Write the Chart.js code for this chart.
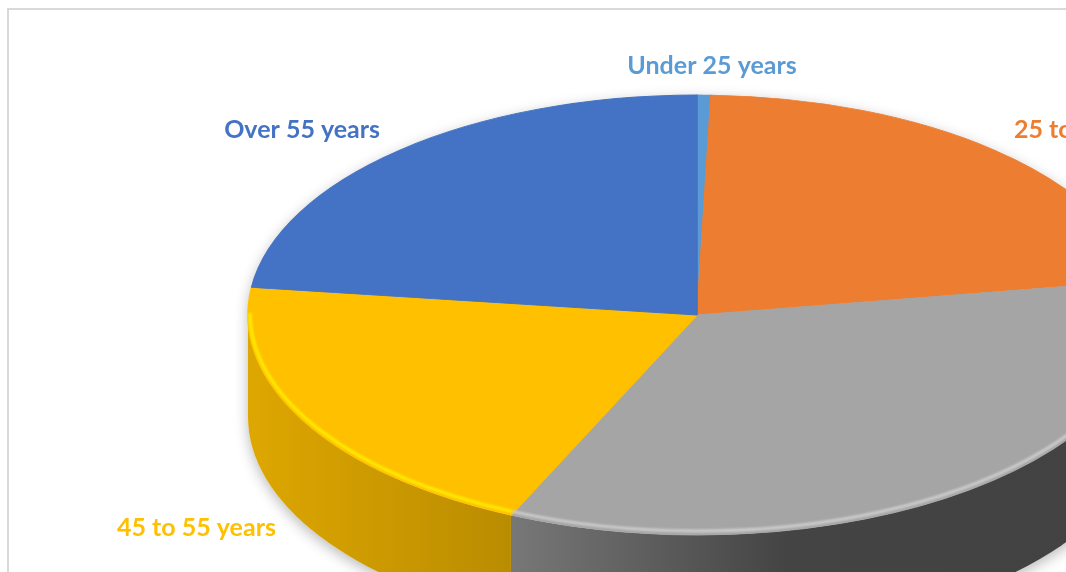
<!DOCTYPE html>
<html>
<head>
<meta charset="utf-8">
<script src="https://cdn.jsdelivr.net/npm/chart.js@4.4.0/dist/chart.umd.min.js"></script>
<style>
html,body{margin:0;padding:0;background:#fff;overflow:hidden;width:1066px;height:572px}
#frame{position:absolute;left:7px;top:8px;width:1300px;height:800px;border:2px solid #d9d9d9}
#wrap{position:absolute;left:0;top:0;width:1066px;height:572px}
</style>
</head>
<body>
<div id="frame"></div>
<div id="wrap"><canvas id="pie"></canvas></div>
<script>
const ageGroups=['Under 25 years','25 to 35 years','35 to 45 years','45 to 55 years','Over 55 years'];
const shares=[0.5,22,34.3,20.2,23];
const sliceColors=['#5B9BD5','#ED7D31','#A5A5A5','#FFC000','#4472C4'];

// where the tilted pie sits on the page
const CX=697, CY=315, RX=449, RY=220, DEPTH=102;

function rgb(hex){const n=parseInt(hex.slice(1),16);return [(n>>16)&255,(n>>8)&255,n&255];}
function shade(hex,f){const c=rgb(hex);return 'rgb('+c.map(v=>Math.min(255,Math.round(v*f))).join(',')+')';}

// front part of each slice (canvas angles 0..PI)
function frontPart(arc){
  const s=Math.max(arc.startAngle,0), e=Math.min(arc.endAngle,Math.PI);
  return e>s?[s,e]:null;
}

const tilt={
  id:'tilt',
  beforeDatasetsDraw(chart){
    const ctx=chart.ctx, arcs=chart.getDatasetMeta(0).data;
    // soft shadow under the whole cake
    ctx.save();
    ctx.shadowColor='rgba(0,0,0,0.28)'; ctx.shadowBlur=14; ctx.shadowOffsetY=4;
    ctx.fillStyle='#fff';
    ctx.beginPath();
    ctx.ellipse(CX,CY,RX,RY,0,Math.PI,2*Math.PI);
    ctx.ellipse(CX,CY+DEPTH,RX,RY,0,0,Math.PI);
    ctx.closePath(); ctx.fill();
    ctx.restore();
    // side walls
    arcs.forEach((arc,i)=>{
      const p=frontPart(arc); if(!p) return;
      const c=sliceColors[i];
      const g=ctx.createLinearGradient(CX-RX,0,CX+RX,0);
      g.addColorStop(0,shade(c,0.87)); g.addColorStop(0.29,shade(c,0.73));
      g.addColorStop(0.6,shade(c,0.41)); g.addColorStop(1,shade(c,0.40));
      ctx.beginPath();
      ctx.ellipse(CX,CY,RX,RY,0,p[0],p[1]);
      ctx.ellipse(CX,CY+DEPTH,RX,RY,0,p[1],p[0],true);
      ctx.closePath();
      ctx.fillStyle=g; ctx.fill();
    });
    // squash the pie top into an ellipse
    const a0=arcs[0], k=RX/a0.outerRadius;
    ctx.save();
    ctx.translate(CX,CY); ctx.scale(k,k*RY/RX); ctx.translate(-a0.x,-a0.y);
  },
  afterDatasetsDraw(chart){
    const ctx=chart.ctx, arcs=chart.getDatasetMeta(0).data;
    ctx.restore();
    // bright rim on the front edge
    arcs.forEach((arc,i)=>{
      const p=frontPart(arc); if(!p) return;
      ctx.save();
      ctx.filter='blur(1px)';
      ctx.strokeStyle=shade(sliceColors[i],1.24); ctx.lineWidth=3;
      ctx.beginPath(); ctx.ellipse(CX,CY-2,RX-2,RY-2,0,p[0],p[1]); ctx.stroke();
      ctx.restore();
    });
    // outside labels
    ctx.save();
    ctx.font='bold 25px Lato';
    arcs.forEach((arc,i)=>{
      const mid=(arc.startAngle+arc.endAngle)/2, c=Math.cos(mid), s=Math.sin(mid);
      let x=CX+c*RX, y, off;
      if(s<0){ctx.textBaseline='alphabetic'; y=CY+s*(RY+36)+15; off=20;}
      else {ctx.textBaseline='middle'; y=CY+s*RY+DEPTH+4; off=29;}
      if(c>0.2){ctx.textAlign='left'; x+=off;}
      else if(c<-0.2){ctx.textAlign='right'; x-=off;}
      else {ctx.textAlign='center'; x+=8;}
      ctx.fillStyle=sliceColors[i];
      ctx.fillText(ageGroups[i],x,y);
    });
    ctx.restore();
  }
};

new Chart(document.getElementById('pie'),{
  type:'pie',
  data:{labels:ageGroups,datasets:[{data:shares,backgroundColor:sliceColors,borderColor:sliceColors,borderWidth:1,clip:false}]},
  options:{
    responsive:true,maintainAspectRatio:false,animation:false,events:[],
    plugins:{legend:{display:false},tooltip:{enabled:false}}
  },
  plugins:[tilt]
});
</script>
</body>
</html>
